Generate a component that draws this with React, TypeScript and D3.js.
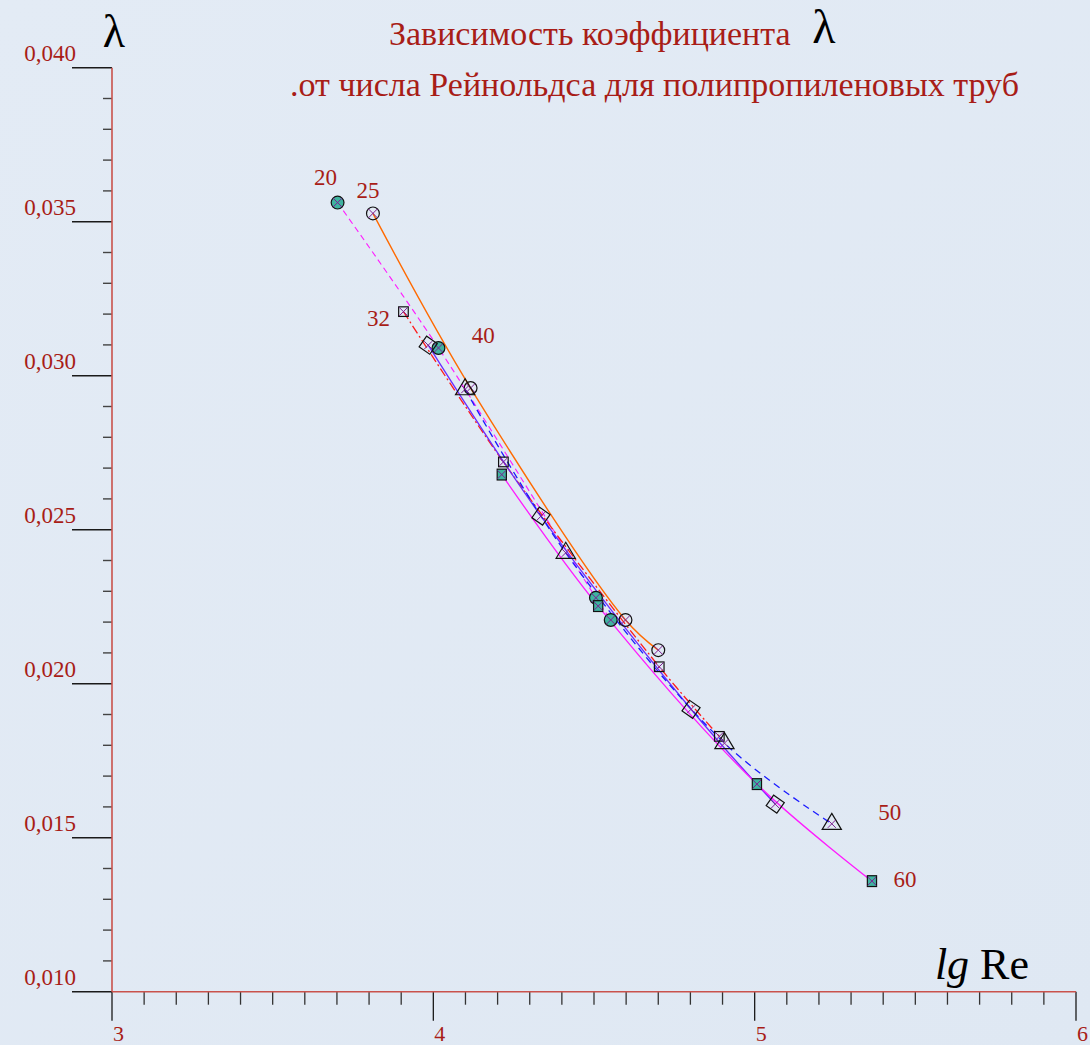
import { useEffect, useRef } from 'react';
import * as d3 from 'd3';

// pipe diameters, mm
const diameters = ['20', '25', '32', '40', '50', '60'];

// lg Re / lambda, one pair of arrays per pipe
const lgRe20 = [3.702, 4.016, 4.506, 4.552];
const lambda20 = [0.03562, 0.0309, 0.02279, 0.02207];

const lgRe25 = [3.812, 4.116, 4.598, 4.7];
const lambda25 = [0.03527, 0.0296, 0.02207, 0.02109];

const lgRe32 = [3.907, 4.218, 4.703, 4.89];
const lambda32 = [0.03208, 0.0272, 0.02055, 0.01829];

const lgRe40 = [3.984, 4.335, 4.802, 5.064];
const lambda40 = [0.03099, 0.02544, 0.01917, 0.01609];

const lgRe50 = [4.099, 4.412, 4.906, 5.24];
const lambda50 = [0.02956, 0.02425, 0.01807, 0.01545];

const lgRe60 = [4.213, 4.513, 5.007, 5.365];
const lambda60 = [0.02679, 0.02252, 0.01674, 0.01359];

const xTickLabels = ['3', '4', '5', '6'];
const yTickLabels = ['0,010', '0,015', '0,020', '0,025', '0,030', '0,035', '0,040'];

const W = 1090;
const H = 1045;

const App = () => {
  const chartRef = useRef<SVGSVGElement>(null);

  useEffect(() => {
    drawChart();
  }, []);

  const drawChart = () => {
    const svg = d3.select(chartRef.current);
    svg.selectAll('*').remove();

    const x = d3.scaleLinear().domain([3, 6]).range([112, 1076]);
    const y = d3.scaleLinear().domain([0.01, 0.04]).range([991.7, 67.7]);

    const dark = '#a81d17';
    const serif = '"Liberation Serif", "Times New Roman", serif';

    // background
    const defs = svg.append('defs');
    const bg = defs.append('linearGradient').attr('id', 'bg')
      .attr('x1', 0).attr('y1', 0).attr('x2', 1).attr('y2', 1);
    bg.append('stop').attr('offset', 0).attr('stop-color', '#e3ebf5');
    bg.append('stop').attr('offset', 1).attr('stop-color', '#dfe8f3');
    svg.append('rect').attr('width', W).attr('height', H).attr('fill', 'url(#bg)');

    const x0 = x(3);
    const y0 = y(0.01);

    // y ticks
    const yMinor = d3.range(10, 41).map(v => v / 1000);
    svg.append('g').selectAll('line').data(yMinor).enter().append('line')
      .attr('x1', (d, i) => (i % 5 === 0 ? x0 - 40 : x0 - 9))
      .attr('x2', x0)
      .attr('y1', d => y(d)).attr('y2', d => y(d))
      .attr('stroke', (d, i) => (i % 5 === 0 ? '#1a1a1a' : '#444'))
      .attr('stroke-width', 1.4);

    svg.append('g').selectAll('text').data(yTickLabels).enter().append('text')
      .attr('x', x0 - 36)
      .attr('y', (d, i) => y(0.01 + i * 0.005) - 7)
      .attr('text-anchor', 'end')
      .attr('font-family', serif).attr('font-size', 23)
      .attr('fill', dark)
      .text(d => d);

    // x ticks
    const xMinor = d3.range(30, 61).map(v => v / 10);
    svg.append('g').selectAll('line').data(xMinor).enter().append('line')
      .attr('x1', d => x(d)).attr('x2', d => x(d))
      .attr('y1', y0)
      .attr('y2', (d, i) => (i % 10 === 0 ? y0 + 29 : y0 + 13))
      .attr('stroke', (d, i) => (i % 10 === 0 ? '#1a1a1a' : '#333'))
      .attr('stroke-width', 1.3);

    svg.append('g').selectAll('text').data(xTickLabels).enter().append('text')
      .attr('x', d => x(+d) + 1)
      .attr('y', 1041)
      .attr('font-family', serif).attr('font-size', 22)
      .attr('fill', dark)
      .text(d => d);

    // axis lines
    svg.append('line').attr('x1', x0).attr('x2', x0).attr('y1', y(0.04)).attr('y2', y0)
      .attr('stroke', '#c9524c').attr('stroke-width', 1.6);
    svg.append('line').attr('x1', x0).attr('x2', x(6)).attr('y1', y0).attr('y2', y0)
      .attr('stroke', '#c9524c').attr('stroke-width', 1.6);

    // axis names
    svg.append('text').attr('x', 114).attr('y', 47)
      .attr('text-anchor', 'middle')
      .attr('font-family', serif).attr('font-size', 46).attr('fill', '#000')
      .text('λ');

    const xl = svg.append('text').attr('x', 1029).attr('y', 979)
      .attr('text-anchor', 'end')
      .attr('font-family', serif).attr('font-size', 44).attr('fill', '#000');
    xl.append('tspan').attr('font-style', 'italic').text('lg');
    xl.append('tspan').text(' Re');

    // title
    svg.append('text').attr('x', 389).attr('y', 45)
      .attr('font-family', serif).attr('font-size', 34).attr('fill', dark)
      .text('Зависимость коэффициента');
    svg.append('text').attr('x', 824).attr('y', 43)
      .attr('text-anchor', 'middle')
      .attr('font-family', serif).attr('font-size', 48).attr('fill', '#000')
      .text('λ');
    svg.append('text').attr('x', 290).attr('y', 96)
      .attr('font-family', serif).attr('font-size', 34).attr('fill', dark)
      .text('.от числа Рейнольдса для полипропиленовых труб');

    const series = [
      { name: diameters[0], xs: lgRe20, ys: lambda20, color: '#ff1aff', dash: '6,4', width: 1.1, marker: 'circle', fill: '#3fb3a0', lab: { end: 0, dx: -12, dy: -18 } },
      { name: diameters[1], xs: lgRe25, ys: lambda25, color: '#ff6a00', dash: null, width: 1.4, marker: 'circle', fill: 'none', lab: { end: 0, dx: -5, dy: -15 } },
      { name: diameters[2], xs: lgRe32, ys: lambda32, color: '#ff1a1a', dash: '9,3,2,3', width: 1.3, marker: 'square', fill: 'none', lab: { end: 0, dx: -25, dy: 14 } },
      { name: diameters[3], xs: lgRe40, ys: lambda40, color: '#6a2bff', dash: null, width: 1.3, marker: 'diamond', fill: 'none', lab: { end: 0, dx: 55, dy: -2 } },
      { name: diameters[4], xs: lgRe50, ys: lambda50, color: '#1a1aff', dash: '7,5', width: 1.3, marker: 'triangle', fill: 'none', lab: { end: 1, dx: 58, dy: -4 } },
      { name: diameters[5], xs: lgRe60, ys: lambda60, color: '#ff1aff', dash: null, width: 1.3, marker: 'square', fill: '#3fb3a0', lab: { end: 1, dx: 33, dy: 6 } },
    ];

    const line = d3.line<[number, number]>()
      .x(d => x(d[0]))
      .y(d => y(d[1]))
      .curve(d3.curveCatmullRom.alpha(0.5));

    // lines
    series.forEach(s => {
      const pts = s.xs.map((v, i) => [v, s.ys[i]] as [number, number]);
      svg.append('path')
        .attr('d', line(pts))
        .attr('fill', 'none')
        .attr('stroke', s.color)
        .attr('stroke-width', s.width)
        .attr('stroke-dasharray', s.dash);
    });

    // markers
    const crossColor = '#7d1f93';
    series.forEach(s => {
      const g = svg.append('g');
      s.xs.forEach((v, i) => {
        const cx = x(v);
        const cy = y(s.ys[i]);
        const m = g.append('g').attr('transform', `translate(${cx},${cy})`);
        let c = 4.5;
        if (s.marker === 'circle') {
          m.append('circle').attr('r', 6.4).attr('fill', s.fill)
            .attr('stroke', '#111').attr('stroke-width', 1.2);
          c = 4.5;
        } else if (s.marker === 'square') {
          const hw = s.fill === 'none' ? 4.8 : 4.6;
          const hh = s.fill === 'none' ? 4.8 : 5.4;
          m.append('rect').attr('x', -hw).attr('y', -hh).attr('width', hw * 2).attr('height', hh * 2)
            .attr('fill', s.fill).attr('stroke', '#111').attr('stroke-width', 1.2);
          c = 4.2;
        } else if (s.marker === 'diamond') {
          m.append('rect').attr('x', -6.5).attr('y', -6.5).attr('width', 13).attr('height', 13)
            .attr('transform', 'rotate(35)')
            .attr('fill', 'none').attr('stroke', '#111').attr('stroke-width', 1.2);
          c = 4;
        } else if (s.marker === 'triangle') {
          m.append('path').attr('d', 'M0,-10.5L9.6,5.5L-9.6,5.5Z')
            .attr('fill', 'none').attr('stroke', '#111').attr('stroke-width', 1.2);
          c = 4;
        }
        m.append('path').attr('d', `M${-c},${-c}L${c},${c}M${-c},${c}L${c},${-c}`)
          .attr('stroke', crossColor).attr('stroke-width', 1);
      });

      // series name
      const k = s.lab.end === 0 ? 0 : s.xs.length - 1;
      svg.append('text')
        .attr('x', x(s.xs[k]) + s.lab.dx)
        .attr('y', y(s.ys[k]) + s.lab.dy)
        .attr('text-anchor', 'middle')
        .attr('font-family', serif).attr('font-size', 23)
        .attr('fill', dark)
        .text(s.name);
    });
  };

  return (
    <div style={{ position: 'absolute', left: 0, top: 0, width: W, height: H, overflow: 'hidden' }}>
      <svg ref={chartRef} width={W} height={H} style={{ display: 'block' }}></svg>
    </div>
  );
};

export default App;
